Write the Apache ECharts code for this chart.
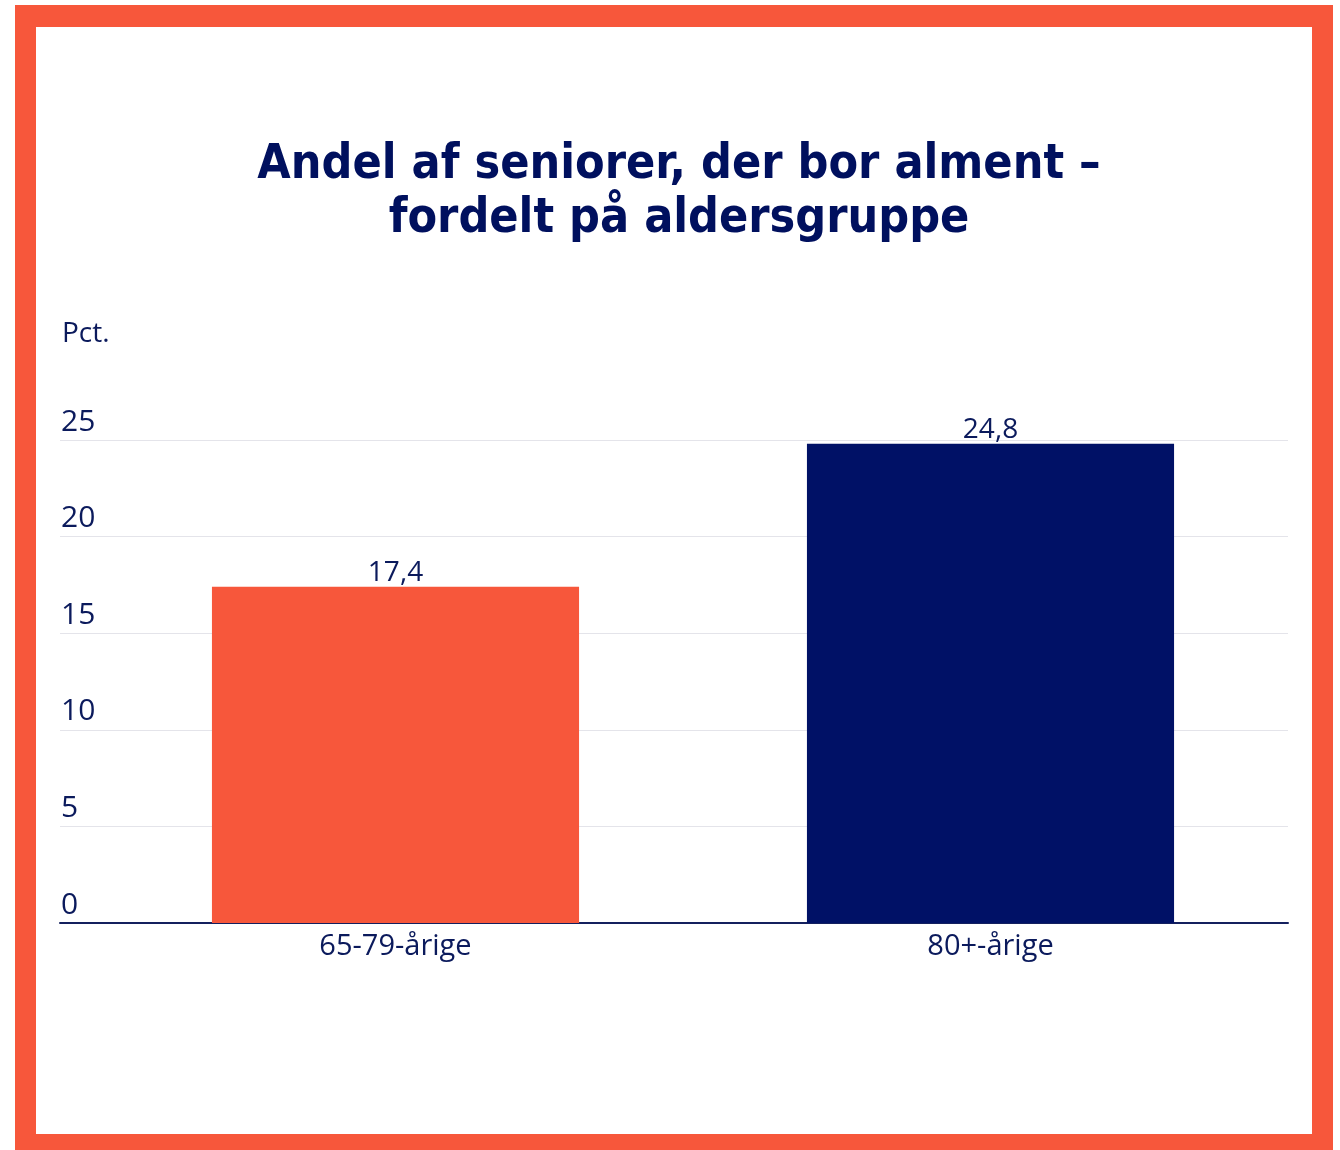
<!DOCTYPE html>
<html>
<head>
<meta charset="utf-8">
<title>Andel af seniorer, der bor alment</title>
<script src="https://cdn.jsdelivr.net/npm/echarts@6/dist/echarts.min.js"></script>
<style>
  html, body { margin: 0; padding: 0; background: #ffffff; }
  body { width: 1340px; height: 1150px; position: relative; overflow: hidden; }
  #frame { position: absolute; left: 15px; top: 5px; width: 1318px; height: 1160px; background: #f7573b; }
  #inner { position: absolute; left: 36px; top: 27px; width: 1276px; height: 1107px; background: #ffffff; }
  #chart { position: absolute; left: 0; top: 0; width: 1340px; height: 1150px; }
</style>
</head>
<body>
<div id="frame"></div>
<div id="inner"></div>
<div id="chart"></div>
<script>
// Share of seniors living in public housing, by age group (percent)
const categories = ['65-79-årige', '80+-årige'];
const values = [17.4, 24.8];
const barColors = ['#f7573b', '#001166'];
const yTicks = { min: 0, max: 25, interval: 5 };

const navy = '#0b1a5c';
const labelFont = '"Open Sans", Lato, sans-serif';

const chart = echarts.init(document.getElementById('chart'), null, { renderer: 'canvas' });

chart.setOption({
  backgroundColor: 'transparent',
  animation: false,
  title: {
    text: 'Andel af seniorer, der bor alment –\nfordelt på aldersgruppe',
    left: 674,
    top: 134,
    textAlign: 'center',
    textStyle: {
      fontFamily: '"DejaVu Sans Condensed", "DejaVu Sans", sans-serif',
      fontWeight: 'bold',
      fontSize: 48,
      lineHeight: 54,
      color: '#00105e'
    }
  },
  grid: [
    // grid carrying the value scale, gridlines and baseline
    { left: 60, right: 52, top: 440, bottom: 227 },
    // grid carrying the bars
    { left: 98, right: 52, top: 440, bottom: 227 }
  ],
  xAxis: [
    {
      type: 'category',
      gridIndex: 0,
      data: [''],
      axisLine: { show: true, lineStyle: { color: '#14205e', width: 2 } },
      axisTick: { show: false },
      axisLabel: { show: false },
      splitLine: { show: false }
    },
    {
      type: 'category',
      gridIndex: 1,
      data: categories,
      axisLine: { show: false },
      axisTick: { show: false },
      axisLabel: {
        margin: 9,
        fontFamily: labelFont,
        fontSize: 29,
        color: navy
      }
    }
  ],
  yAxis: [
    {
      type: 'value',
      gridIndex: 0,
      min: yTicks.min,
      max: yTicks.max,
      interval: yTicks.interval,
      name: 'Pct.',
      nameLocation: 'end',
      nameGap: 92,
      nameTextStyle: {
        align: 'left',
        fontFamily: labelFont,
        fontSize: 28,
        color: navy,
        padding: [0, 0, 0, 2]
      },
      axisLine: { show: false },
      axisTick: { show: false },
      axisLabel: {
        inside: true,
        margin: 1,
        align: 'left',
        verticalAlign: 'bottom',
        padding: [0, 0, 3, 0],
        fontFamily: labelFont,
        fontSize: 30,
        color: navy
      },
      splitLine: { show: true, lineStyle: { color: '#e4e4ea', width: 1 } }
    },
    {
      type: 'value',
      gridIndex: 1,
      min: yTicks.min,
      max: yTicks.max,
      interval: yTicks.interval,
      show: false,
      splitLine: { show: false }
    }
  ],
  series: [
    {
      type: 'bar',
      xAxisIndex: 1,
      yAxisIndex: 1,
      barWidth: '61.7%',
      data: values.map((v, i) => ({ value: v, itemStyle: { color: barColors[i] } })),
      label: {
        show: true,
        position: 'top',
        distance: 0,
        fontFamily: labelFont,
        fontSize: 28,
        color: navy,
        formatter: p => String(p.value).replace('.', ',')
      }
    }
  ]
});
</script>
</body>
</html>
